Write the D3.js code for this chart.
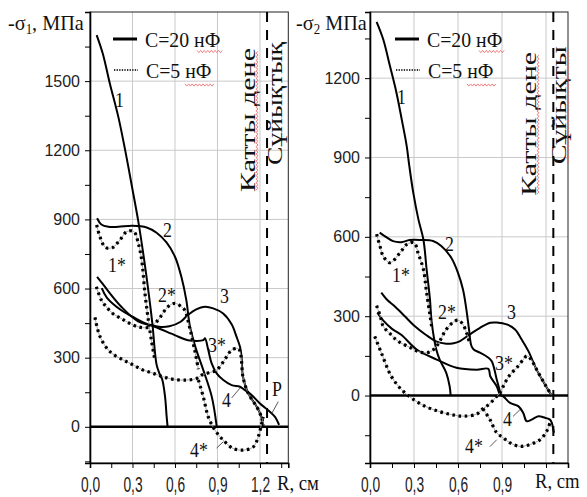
<!DOCTYPE html>
<html>
<head>
<meta charset="utf-8">
<script src="https://cdn.jsdelivr.net/npm/d3@7"></script>
<style>
  body { margin: 0; background: #fff; }
  svg { display: block; }
</style>
</head>
<body>
<svg id="chart" width="587" height="497"></svg>
<script>
// ---------- Data: radial stress profiles, R (cm) vs -sigma (MPa) ----------
// Panel 1: -sigma1, C = 20 nF (solid) and C = 5 nF (dotted, starred labels)
const s1_curve1  = [[0.047,1700],[0.09,1620],[0.14,1490],[0.2,1345],[0.25,1195],[0.3,1030],[0.34,895],[0.38,735],[0.41,600],[0.44,450],[0.47,270],[0.49,232],[0.51,205],[0.53,130],[0.541,45],[0.548,0]];
const s1_curve2  = [[0.05,905],[0.08,878],[0.13,868],[0.2,868],[0.3,872],[0.4,865],[0.47,842],[0.54,800],[0.6,738],[0.645,651],[0.68,550],[0.706,434],[0.75,335],[0.8,246],[0.86,130],[0.895,0]];
const s1_curve3  = [[0.083,602],[0.12,560],[0.221,506],[0.3,478],[0.38,452],[0.44,440],[0.5,433],[0.56,436],[0.64,456],[0.69,485],[0.75,510],[0.81,521],[0.87,514],[0.94,492],[1.0,445],[1.035,390],[1.059,347],[1.07,304],[1.08,217],[1.117,145],[1.177,87],[1.21,43],[1.222,0]];
const s1_curve4  = [[0.05,651],[0.09,620],[0.127,590],[0.221,521],[0.339,458],[0.457,434],[0.598,398],[0.692,376],[0.8,376],[0.812,384],[0.835,333],[0.859,275],[0.894,232],[0.941,203],[1.0,181],[1.059,174],[1.094,159],[1.141,138],[1.2,101],[1.27,65],[1.306,43],[1.335,8]];
const s1_curve1s = [[0.047,876],[0.07,825],[0.11,778],[0.16,778],[0.21,810],[0.26,847],[0.31,847],[0.341,796],[0.365,724],[0.388,579],[0.412,463],[0.435,370],[0.455,300]];
const s1_curve2s = [[0.045,608],[0.08,550],[0.115,521],[0.16,492],[0.22,470],[0.28,449],[0.34,434],[0.4,430],[0.44,440],[0.48,463],[0.55,521],[0.6,536],[0.645,521],[0.67,505],[0.7,440],[0.74,330],[0.765,250]];
const s1_curve3s = [[0.035,475],[0.071,391],[0.141,326],[0.235,290],[0.306,268],[0.376,246],[0.447,232],[0.517,217],[0.588,206],[0.682,203],[0.753,210],[0.79,225],[0.84,235],[0.894,246],[0.965,304],[1.0,333],[1.047,340],[1.065,310],[1.08,217],[1.117,145],[1.177,87],[1.21,43],[1.225,5]];
const s1_curve4s = [[0.765,203],[0.8,130],[0.835,43],[0.882,-14],[0.941,-58],[1.01,-94],[1.082,-101],[1.153,-87],[1.188,-43],[1.212,15],[1.223,43]];

// Panel 2: -sigma2
const s2_curve1  = [[0.045,1413],[0.09,1347],[0.136,1246],[0.18,1146],[0.216,1045],[0.25,944],[0.268,868],[0.295,767],[0.33,666],[0.364,590],[0.386,477],[0.409,363],[0.42,280],[0.452,174],[0.475,136],[0.52,86],[0.543,35],[0.55,0]];
const s2_curve2  = [[0.066,616],[0.1,603],[0.157,584],[0.214,580],[0.27,588],[0.35,588],[0.43,584],[0.486,565],[0.554,521],[0.6,464],[0.634,401],[0.657,326],[0.675,250],[0.69,190],[0.705,175],[0.75,162],[0.8,146],[0.83,130],[0.864,61],[0.886,16],[0.895,0]];
const s2_curve3  = [[0.077,389],[0.12,360],[0.168,338],[0.237,300],[0.3,265],[0.38,230],[0.45,205],[0.52,196],[0.57,198],[0.614,206],[0.68,231],[0.75,256],[0.82,275],[0.864,276],[0.932,269],[0.989,250],[1.034,212],[1.08,168],[1.136,98],[1.193,42],[1.239,0]];
const s2_curve4  = [[0.05,313],[0.091,283],[0.15,252],[0.213,230],[0.318,174],[0.455,136],[0.59,105],[0.727,98],[0.807,101],[0.82,73],[0.864,35],[0.886,4],[0.909,-3],[0.955,-28],[1.011,-40],[1.045,-66],[1.068,-97],[1.102,-91],[1.148,-78],[1.193,-84],[1.227,-91],[1.24,-103],[1.25,-129],[1.255,-141]];
const s2_curve1s = [[0.045,610],[0.068,565],[0.09,527],[0.136,502],[0.205,540],[0.25,571],[0.3,578],[0.33,535],[0.364,477],[0.386,389],[0.41,300],[0.42,262]];
const s2_curve2s = [[0.045,340],[0.07,300],[0.09,262],[0.14,232],[0.19,206],[0.28,180],[0.35,163],[0.41,165],[0.455,187],[0.52,250],[0.57,278],[0.6,285],[0.63,272],[0.66,235],[0.68,195]];
const s2_curve3s = [[0.032,224],[0.077,162],[0.145,73],[0.214,23],[0.282,-9],[0.373,-40],[0.464,-59],[0.554,-72],[0.64,-78],[0.727,-70],[0.77,-50],[0.818,-30],[0.864,-3],[0.886,10],[0.92,48],[0.955,79],[1.0,105],[1.045,136],[1.07,150],[1.1,135],[1.136,98],[1.193,42],[1.239,0]];
const s2_curve4s = [[0.77,-50],[0.818,-91],[0.864,-141],[0.909,-160],[0.955,-179],[1.023,-192],[1.091,-185],[1.159,-167],[1.205,-135],[1.227,-103]];

// Axis ticks
const xLabels1 = [0, 0.3, 0.6, 0.9, 1.2];
const xLabels2 = [0, 0.3, 0.6, 0.9];
const xMajor2  = [0, 0.3, 0.6, 0.9, 1.2];
const xMinor   = [0.15, 0.45, 0.75, 1.05, 1.35];
const yLabels1 = [0, 300, 600, 900, 1200, 1500];
const yMinor1  = [-150, 150, 450, 750, 1050, 1350, 1650];
const yLabels2 = [0, 300, 600, 900, 1200];
const yMinor2  = [-150, 150, 450, 750, 1050, 1350];

// Interface position, cm
const interfaceR = 1.25;

// Legend entries
const legendText = ["C=20 нФ", "C=5 нФ"];

// ---------- Drawing ----------
const SERIF = "'Liberation Serif','Times New Roman',serif";
const SANS  = "'Liberation Sans',Arial,sans-serif";
const svg = d3.select("#chart");
const line = d3.line().curve(d3.curveCatmullRom.alpha(0.5));

function text(g, x, y, s, size, sx, opts = {}) {
  return g.append("text")
    .attr("transform", `translate(${x},${y}) scale(${sx},1)`)
    .attr("font-family", opts.family || SERIF)
    .attr("font-size", size)
    .attr("text-anchor", opts.anchor || "start")
    .attr("fill", "#111")
    .text(s);
}

// small red spell-check style wavy mark
function squiggle(g, x1, y1, x2, y2) {
  const len = Math.hypot(x2 - x1, y2 - y1);
  const ux = (x2 - x1) / len, uy = (y2 - y1) / len;
  const nx = -uy, ny = ux;
  const pts = [];
  for (let s = 0, i = 0; s <= len; s += 1.8, i++) {
    const a = (i % 2 ? 1.1 : -1.1);
    pts.push([x1 + ux * s + nx * a, y1 + uy * s + ny * a]);
  }
  g.append("path").attr("d", d3.line()(pts))
    .attr("fill", "none").attr("stroke", "#f06060").attr("stroke-width", 0.8);
}

function drawPanel(p) {
  const x = d3.scaleLinear().domain(p.xDomain).range([p.left, p.right]);
  const y = d3.scaleLinear().domain(p.yDomain).range([p.bottom, p.top]);
  const g = svg.append("g");

  // grid
  g.append("g").selectAll("line").data(p.yLabels.filter(d => d !== 0)).join("line")
    .attr("x1", p.left).attr("x2", p.right)
    .attr("y1", d => y(d)).attr("y2", d => y(d))
    .attr("stroke", "#c9c9c9").attr("stroke-width", 1);
  g.append("g").selectAll("line").data(p.xMajor.filter(d => d > 0)).join("line")
    .attr("x1", d => x(d)).attr("x2", d => x(d))
    .attr("y1", p.top).attr("y2", p.bottom)
    .attr("stroke", "#c9c9c9").attr("stroke-width", 1);

  // frame
  g.append("rect")
    .attr("x", p.left).attr("y", p.top)
    .attr("width", p.right - p.left).attr("height", p.bottom - p.top)
    .attr("fill", "none").attr("stroke", "#222").attr("stroke-width", 1);

  // y axis
  g.append("g").attr("transform", `translate(${p.left},0)`)
    .call(d3.axisLeft(y).tickValues(p.yLabels).tickSize(5).tickPadding(5).tickFormat(d3.format("d")))
    .call(a => a.select(".domain").attr("stroke-width", 1.6))
    .call(a => a.selectAll("text").attr("font-family", SANS).attr("font-size", 16).attr("fill", "#222"));
  g.append("g").attr("transform", `translate(${p.left},0)`)
    .call(d3.axisLeft(y).tickValues(p.yMinor).tickSize(5).tickFormat(""))
    .call(a => a.select(".domain").remove());

  // x axis
  const fmt = d => d3.format(".1f")(d).replace(".", ",");
  g.append("g").attr("transform", `translate(0,${p.bottom})`)
    .call(d3.axisBottom(x).tickValues(p.xMajor).tickSize(5).tickPadding(9)
      .tickFormat(d => p.xLabels.includes(d) ? fmt(d) : ""))
    .call(a => a.select(".domain").attr("stroke-width", 1.6))
    .call(a => a.selectAll("text").attr("font-family", SANS).attr("font-size", 21.5)
      .attr("fill", "#222").attr("transform", "scale(0.64,1)"));
  g.append("g").attr("transform", `translate(0,${p.bottom})`)
    .call(d3.axisBottom(x).tickValues(p.xMinor.filter(d => d < p.xDomain[1])).tickSize(5).tickFormat(""))
    .call(a => a.select(".domain").remove());

  // zero line
  g.append("line").attr("x1", p.left).attr("x2", p.right)
    .attr("y1", y(0)).attr("y2", y(0)).attr("stroke", "#000").attr("stroke-width", 2.4);

  // interface (dashed)
  g.append("line").attr("x1", x(interfaceR)).attr("x2", x(interfaceR))
    .attr("y1", p.top).attr("y2", p.bottom)
    .attr("stroke", "#000").attr("stroke-width", 2).attr("stroke-dasharray", "10,8");

  // vertical region labels
  p.regions.forEach(r => {
    g.append("text")
      .attr("transform", `translate(${x(r.at[0])},${y(r.at[1])}) rotate(-90)`)
      .attr("font-family", SERIF).attr("font-size", 20).attr("fill", "#111")
      .attr("textLength", r.length).attr("lengthAdjust", "spacingAndGlyphs")
      .text(r.text);
    if (r.wavy) squiggle(g, x(r.at[0]) + 2, y(r.at[1]) - 2, x(r.at[0]) + 2, y(r.at[1]) - r.length + 2);
  });

  // curves
  const clip = "clip-" + p.id;
  g.append("clipPath").attr("id", clip).append("rect")
    .attr("x", p.left).attr("y", p.top).attr("width", p.right - p.left).attr("height", p.bottom - p.top);
  const cg = g.append("g").attr("clip-path", `url(#${clip})`);
  const toPx = d => [x(d[0]), y(d[1])];
  p.solid.forEach(s => {
    cg.append("path").attr("d", line(s.map(toPx)))
      .attr("fill", "none").attr("stroke", "#000").attr("stroke-width", 2);
  });
  p.dotted.forEach(s => {
    cg.append("path").attr("d", line(s.map(toPx)))
      .attr("fill", "none").attr("stroke", "#9a9a9a").attr("stroke-width", 0.9);
    cg.append("path").attr("d", line(s.map(toPx)))
      .attr("fill", "none").attr("stroke", "#000").attr("stroke-width", 3.2)
      .attr("stroke-dasharray", "2.6,3.6");
  });

  // curve labels
  p.labels.forEach(l => text(g, x(l.at[0]), y(l.at[1]), l.text, 21, 0.85));
  p.leaders.forEach(l => {
    g.append("line").attr("x1", x(l[0][0])).attr("y1", y(l[0][1]))
      .attr("x2", x(l[1][0])).attr("y2", y(l[1][1]))
      .attr("stroke", "#444").attr("stroke-width", 0.9);
  });

  // legend
  const lx = p.left + p.legend.dx;
  g.append("line").attr("x1", lx).attr("x2", lx + 24).attr("y1", 39).attr("y2", 39)
    .attr("stroke", "#000").attr("stroke-width", 3);
  g.append("line").attr("x1", lx + 1).attr("x2", lx + 25).attr("y1", 70).attr("y2", 70)
    .attr("stroke", "#333").attr("stroke-width", 1.8).attr("stroke-dasharray", "1.3,1.3");
  text(g, lx + 32, 47, legendText[0], 22, 0.9);
  text(g, lx + 33, 78, legendText[1], 22, 0.9);
  squiggle(g, lx + 84, 51.5, lx + 110, 51.5);
  squiggle(g, lx + 72, 85, lx + 101, 85);

  // axis titles
  const t = g.append("text")
    .attr("transform", `translate(${p.yTitle.x},30) scale(0.92,1)`)
    .attr("font-family", SERIF).attr("font-size", 22).attr("fill", "#111");
  t.append("tspan").text("-σ");
  t.append("tspan").attr("dy", 4).attr("font-size", 14).text(p.yTitle.sub);
  t.append("tspan").attr("dy", -4).text(p.yTitle.rest);
  text(g, p.xTitle.x, p.xTitle.y, p.xTitle.text, 22, 0.85);

  return { x, y };
}

drawPanel({
  id: "s1", left: 90, right: 288.3, top: 12, bottom: 463,
  xDomain: [0, 1.4], yDomain: [-157, 1800],
  xMajor: xLabels1, xLabels: xLabels1, xMinor: xMinor,
  yLabels: yLabels1, yMinor: yMinor1,
  solid: [s1_curve1, s1_curve2, s1_curve3, s1_curve4],
  dotted: [s1_curve1s, s1_curve2s, s1_curve3s, s1_curve4s],
  labels: [
    { text: "1",  at: [0.176, 1389] }, { text: "2",  at: [0.515, 824] },
    { text: "1*", at: [0.127, 672] },  { text: "2*", at: [0.48, 541] },
    { text: "3",  at: [0.918, 537] },  { text: "3*", at: [0.833, 324] },
    { text: "4",  at: [0.932, 86] },   { text: "4*", at: [0.706, -132] },
    { text: "P",  at: [1.285, 133] }
  ],
  leaders: [
    [[1.0, 125], [1.059, 168]],
    [[0.894, -92], [0.941, -65]],
    [[1.283, 58], [1.329, 109]]
  ],
  regions: [
    { text: "Катты дене", at: [1.165, 1019], length: 144, wavy: true },
    { text: "Сұйықтық",   at: [1.355, 1136], length: 123, wavy: false }
  ],
  legend: { dx: 23 },
  yTitle: { x: 8, sub: "1", rest: ", МПа" },
  xTitle: { x: 277, y: 490, text: "R, см" }
});

drawPanel({
  id: "s2", left: 370, right: 568, top: 12, bottom: 463,
  xDomain: [0, 1.35], yDomain: [-255, 1450],
  xMajor: xMajor2, xLabels: xLabels2, xMinor: xMinor,
  yLabels: yLabels2, yMinor: yMinor2,
  solid: [s2_curve1, s2_curve2, s2_curve3, s2_curve4],
  dotted: [s2_curve1s, s2_curve2s, s2_curve3s, s2_curve4s],
  labels: [
    { text: "1",  at: [0.184, 1101] }, { text: "2",  at: [0.511, 545] },
    { text: "1*", at: [0.15, 431] },   { text: "2*", at: [0.464, 288] },
    { text: "3",  at: [0.934, 288] },  { text: "3*", at: [0.852, 98] },
    { text: "4",  at: [0.907, -117] }, { text: "4*", at: [0.648, -216] }
  ],
  leaders: [
    [[0.975, -79], [1.023, -53]],
    [[0.818, -193], [0.864, -167]]
  ],
  regions: [
    { text: "Катты дене", at: [1.132, 755], length: 144, wavy: true },
    { text: "Сұйықты",    at: [1.336, 874], length: 118, wavy: true }
  ],
  legend: { dx: 25 },
  yTitle: { x: 296, sub: "2", rest: " МПа" },
  xTitle: { x: 535, y: 488, text: "R, cm" }
});
</script>
</body>
</html>
